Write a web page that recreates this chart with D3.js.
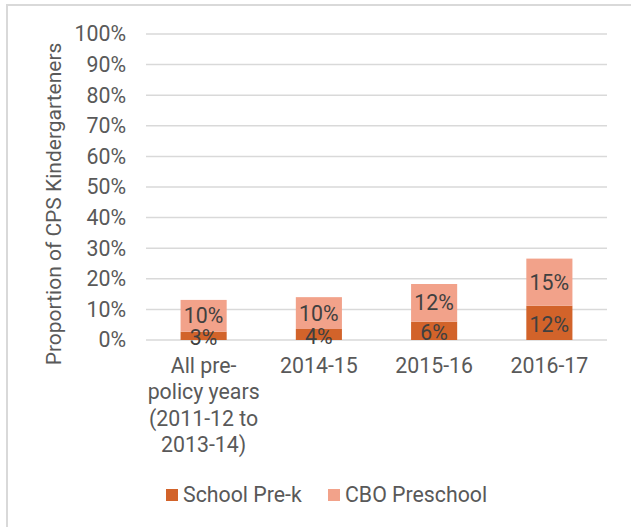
<!DOCTYPE html>
<html>
<head>
<meta charset="utf-8">
<script src="https://cdn.jsdelivr.net/npm/d3@7"></script>
<style>
  html, body { margin: 0; padding: 0; background: #fff; }
  svg { display: block; font-family: Roboto, "Noto Sans", sans-serif; }
</style>
</head>
<body>
<svg id="chart" width="631" height="527"></svg>
<script>
const categories = [
  ["All pre-", "policy years", "(2011-12 to", "2013-14)"],
  ["2014-15"],
  ["2015-16"],
  ["2016-17"]
];
const categoryKeys = ["pre", "2014-15", "2015-16", "2016-17"];
const schoolPreK = [2.7, 3.6, 6.0, 11.2];
const cboPreschool = [10.4, 10.4, 12.3, 15.4];
const schoolLabels = ["3%", "4%", "6%", "12%"];
const cboLabels = ["10%", "10%", "12%", "15%"];
const yTicks = [0, 10, 20, 30, 40, 50, 60, 70, 80, 90, 100];
const seriesNames = ["School Pre-k", "CBO Preschool"];
const seriesColors = ["#d2632a", "#f2a28a"];

const svg = d3.select("#chart");
const FS = 21.3;

// outer border
svg.append("rect")
  .attr("x", 7).attr("y", 5).attr("width", 700).attr("height", 600)
  .attr("fill", "none").attr("stroke", "#d9d9d9").attr("stroke-width", 2);

const x = d3.scaleBand().domain(categoryKeys).range([146, 607])
  .paddingInner(0.6).paddingOuter(0.3);
const y = d3.scaleLinear().domain([0, 100]).range([340, 34]);

// gridlines
svg.append("g").selectAll("line").data(yTicks).join("line")
  .attr("x1", 146).attr("x2", 607)
  .attr("y1", d => y(d)).attr("y2", d => y(d))
  .attr("stroke", "#d9d9d9").attr("stroke-width", 1.5);

// y axis labels
const yAxis = d3.axisLeft(y).tickValues(yTicks).tickFormat(d => d + "%").tickSize(0).tickPadding(0);
const yg = svg.append("g").attr("transform", "translate(126,0)").call(yAxis);
yg.select(".domain").remove();
yg.selectAll("text").attr("font-size", FS).attr("fill", "#595959")
  .attr("font-family", "Roboto, sans-serif");

// stacked data
const rows = categoryKeys.map((k, i) => ({ key: k, school: schoolPreK[i], cbo: cboPreschool[i], sl: schoolLabels[i], cl: cboLabels[i] }));
const stack = d3.stack().keys(["school", "cbo"])(rows);

const g = svg.append("g");
stack.forEach((layer, li) => {
  g.append("g").selectAll("rect").data(layer).join("rect")
    .attr("x", d => x(d.data.key))
    .attr("width", x.bandwidth())
    .attr("y", d => y(d[1]))
    .attr("height", d => y(d[0]) - y(d[1]))
    .attr("fill", seriesColors[li]);
});

// data labels
stack.forEach((layer, li) => {
  g.append("g").selectAll("text").data(layer).join("text")
    .attr("x", d => x(d.data.key) + x.bandwidth() / 2)
    .attr("y", d => (y(d[0]) + y(d[1])) / 2)
    .attr("dy", li === 0 ? "0.45em" : "0.35em")
    .attr("text-anchor", "middle")
    .attr("font-size", FS)
    .attr("fill", "#404040")
    .text(d => li === 0 ? d.data.sl : d.data.cl);
});

// x labels
const xl = svg.append("g").selectAll("text").data(categoryKeys).join("text")
  .attr("text-anchor", "middle")
  .attr("font-size", FS)
  .attr("fill", "#595959");
xl.each(function(k, i) {
  const t = d3.select(this);
  categories[i].forEach((line, j) => {
    t.append("tspan")
      .attr("x", x(k) + x.bandwidth() / 2)
      .attr("y", 373 + j * 26.3)
      .text(line);
  });
});

// y title
svg.append("text")
  .attr("transform", "translate(61,204) rotate(-90)")
  .attr("text-anchor", "middle")
  .attr("font-size", 21)
  .attr("fill", "#595959")
  .text("Proportion of CPS Kindergarteners");

// legend
const legendX = [166, 328];
const lg = svg.append("g");
seriesNames.forEach((name, i) => {
  lg.append("rect").attr("x", legendX[i]).attr("y", 489).attr("width", 12).attr("height", 12)
    .attr("fill", seriesColors[i]);
  lg.append("text").attr("x", legendX[i] + 17).attr("y", 501.5)
    .attr("font-size", FS).attr("fill", "#595959").text(name);
});
</script>
</body>
</html>
